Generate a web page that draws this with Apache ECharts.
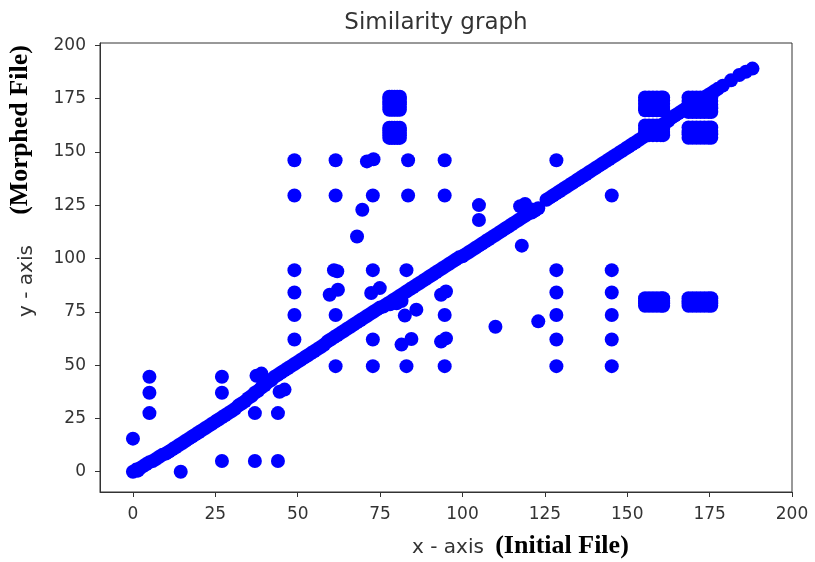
<!DOCTYPE html>
<html>
<head>
<meta charset="utf-8">
<script src="https://cdn.jsdelivr.net/npm/echarts@6/dist/echarts.min.js"></script>
<style>html,body{margin:0;padding:0;background:#fff}#c{width:815px;height:562px}</style>
</head>
<body>
<div id="c"></div>
<script>
const tickValues = [0, 25, 50, 75, 100, 125, 150, 175, 200];

// main diagonal band (x, y)
const diagonal = [
[0,0],[1,1],[2,1.5],[3,2.5],[4,3.5],[5,4.5],[6,5],[7,6],[8,7],[9,8],[10,8.5],[11,9.5],[12,10.5],[13,11.5],[14,12.5],[15,13.5],[16,14.5],[17,15.5],[18,16.5],[19,17.5],[20,18.5],[21,19.5],[22,20.5],[23,21.5],[24,22.5],[25,23.5],[26,24.5],[27,25.5],[28,26.5],[29,27.5],[30,28.5],[31,29.5],[32,31],[33,32],[34,33],[35,34.5],[36,35.5],[37,37],[38,38],[39,39.5],[40,40.5],[41,42],[42,43],[43,44.5],[44,45.5],[45,46.5],[46,47.5],[47,48.5],[48,49.5],[49,50.5],[50,51.5],[51,52.5],[52,53.5],[53,54.5],[54,55.5],[55,56.5],[56,57.5],[57,58.5],[58,59.5],[59,61],[60,62],[61,63],[62,64],[63,65],[64,66],[65,67],[66,68],[67,69],[68,70],[69,71],[70,72],[71,73],[72,74],[73,75],[74,76],[75,77],[76,77.5],[77,78.5],[78,79.5],[79,80.5],[80,81.5],[81,82.5],[82,83.5],[83,84.5],[84,85.5],[85,86.5],[86,87.5],[87,88.5],[88,89.5],[89,90.5],[90,91.5],[91,92.5],[92,93.5],[93,94.5],[94,95.5],[95,96.5],[96,97.5],[97,98.5],[98,99.5],[99,100.5],[100,101],[101,102],[102,103],[103,104],[104,105],[105,106],[106,107],[107,108],[108,109],[109,110],[110,111],[111,112],[112,113],[113,114],[114,115],[115,116],[116,117],[117,118],[118,119],[119,120],[120,121],[121,121.5],[122,122.5],[123,123.5],
[125.5,127.5],[126.5,128.5],[127.5,129.5],[128.5,130.5],[129.5,131.5],[130.5,132.5],[131.5,133.5],[132.5,134.5],[133.5,135.5],[134.5,136.5],[135.5,137.5],[136.5,138.5],[137.5,139.5],[138.5,140.5],[139.5,141.5],[140.5,142.5],[141.5,143.5],[142.5,144.5],[143.5,145.5],[144.5,146.5],[145.5,147.5],[146.5,148.5],[147.5,149.5],[148.5,150.5],[149.5,151.5],[150.5,152.5],[151.5,153.5],[152.5,154.5],[153.5,155.5],[154.5,156.5],[155.5,157.5],[156.5,158.5],[157.5,159.5],[158.5,160.5],[159.5,161.5],[160.5,162.5],[161.5,163.5],[162.5,164.5],[163.5,166],[164.5,167],[165.5,168],[166.5,169],[167.5,170],[168.5,171],[169.5,172],[170.5,172.5],[171.5,173.5],[172.5,174.5],[173.5,175.5],[174.5,176.5],[175.5,177.5],[176.5,178.5],[177.5,179.5],
[179,181],[181.5,183.5],[184,186],[186,187.5],[188,189],
[1.5,0.5],[78,78.5],[80,79],[81.5,80],[117.5,124.5],[119,125.5],[121,123]
];

// isolated points and columns
const scattered = [
[0,15.5],[14.5,0],[5,44.5],[5,37],[5,27.5],[27,44.5],[27,37],[27,5],[37,5],[44,5],[37,27.5],[44,27.5],
[37.5,45],[39,46],[39.5,44],[44.5,37.5],[46,38.5],
[49,146],[49,129.5],[49,94.5],[49,84],[49,73.5],[49,62],
[61.5,146],[61.5,129.5],[61,94.5],[62,94],[59.7,83],[62.2,85.3],[61.5,73.5],[61.5,49.5],
[71,145.5],[73,146.5],[72.8,129.5],[72.8,94.5],[72.3,83.8],[74.9,86.1],[72.8,62],[72.8,49.5],[69.6,122.8],[68,110.3],
[83.5,146],[83.5,129.5],[83,94.5],[82.5,73.2],[86,76],[81.5,59.6],[84.5,62.2],[83,49.5],
[94.6,146],[94.6,129.5],[93.5,83],[95,84.5],[94.6,73.5],[93.5,61],[95,62.5],[94.6,49.5],
[105,125],[105,118],[118,106],[110,68],[123,70.5],
[128.5,146],[128.5,94.5],[128.5,84],[128.5,73.5],[128.5,62],[128.5,49.5],
[145.3,129.5],[145.3,94.5],[145.3,84],[145.3,73.5],[145.3,62],[145.3,49.5]
];

// dense clusters (blob cells): x positions and y positions of each cluster
const cluster80X = [77.8, 78.6, 79.4, 80.2, 81];
const cluster80Y = [156.5, 157.7, 158.9, 160.1, 161.3, 169.7, 171, 172.3, 173.5, 174.7, 175.8];
const cluster158X = [155.4, 156.6, 157.8, 159, 160.2, 160.9];
const cluster158Y = [157.8, 159.3, 160.8, 162.3, 169.5, 171, 172.5, 174, 175.5, 77.8, 79, 80.2, 81.3];
const cluster172X = [168.6, 169.8, 171, 172.2, 173.4, 174.6, 175.5];
const cluster172Y = [156.6, 158.2, 159.8, 161.4, 168.6, 170.4, 172.1, 173.8, 175.5, 77.8, 79, 80.2, 81.3];

const clusters = [];
[[cluster80X, cluster80Y], [cluster158X, cluster158Y], [cluster172X, cluster172Y]].forEach(function (c) {
  c[0].forEach(function (x) { c[1].forEach(function (y) { clusters.push([x, y]); }); });
});

const allPoints = diagonal.concat(scattered, clusters);

const chart = echarts.init(document.getElementById('c'), null, {renderer: 'canvas'});
const axisColor = '#333';
chart.setOption({
  animation: false,
  backgroundColor: '#fff',
  grid: {left: 100, right: 23, top: 43, bottom: 70, show: true, borderColor: axisColor, borderWidth: 1, backgroundColor: 'transparent'},
  xAxis: {
    type: 'value', min: -10, max: 200,
    splitLine: {show: false},
    axisLine: {show: true, onZero: false, lineStyle: {color: axisColor, width: 1}},
    axisTick: {show: true, length: 5, lineStyle: {color: axisColor}, customValues: tickValues},
    axisLabel: {color: '#333', fontSize: 17, fontFamily: 'DejaVu Sans', margin: 14, customValues: tickValues}
  },
  yAxis: {
    type: 'value', min: -9.5, max: 201,
    splitLine: {show: false},
    axisLine: {show: true, onZero: false, lineStyle: {color: axisColor, width: 1}},
    axisTick: {show: true, length: 5, lineStyle: {color: axisColor}, customValues: tickValues},
    axisLabel: {color: '#333', fontSize: 17, fontFamily: 'DejaVu Sans', margin: 14, customValues: tickValues}
  },
  graphic: [
    {type: 'text', x: 436, y: 23, style: {text: 'Similarity graph', fill: '#333', font: '23px "DejaVu Sans"', textAlign: 'center', textVerticalAlign: 'middle'}},
    {type: 'text', x: 448, y: 548, style: {text: 'x - axis', fill: '#333', font: '20px "DejaVu Sans"', textAlign: 'center', textVerticalAlign: 'middle'}},
    {type: 'text', x: 562, y: 546, style: {text: '(Initial File)', fill: '#000', font: 'bold 26px "Liberation Serif"', textAlign: 'center', textVerticalAlign: 'middle'}},
    {type: 'text', x: 27, y: 281, rotation: Math.PI / 2, style: {text: 'y - axis', fill: '#333', font: '20px "DejaVu Sans"', textAlign: 'center', textVerticalAlign: 'middle'}},
    {type: 'text', x: 20, y: 130, rotation: Math.PI / 2, style: {text: '(Morphed File)', fill: '#000', font: 'bold 26px "Liberation Serif"', textAlign: 'center', textVerticalAlign: 'middle'}}
  ],
  series: [{
    type: 'scatter',
    data: allPoints,
    symbolSize: 14,
    itemStyle: {color: '#0000ff', opacity: 1},
    emphasis: {disabled: true},
    silent: true
  }]
});
</script>
</body>
</html>
